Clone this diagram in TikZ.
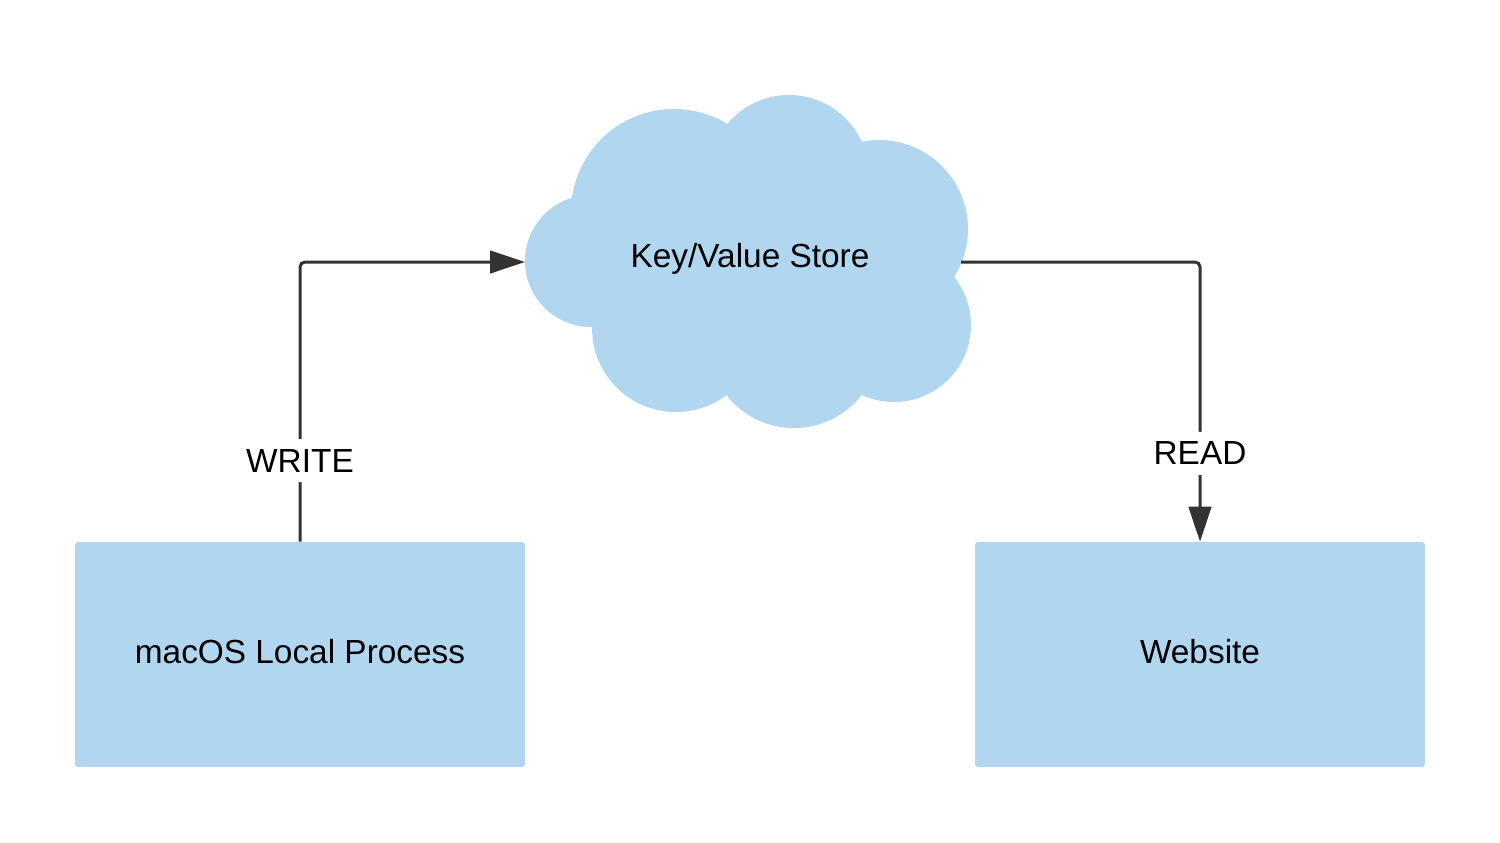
\documentclass[tikz,border=0pt]{standalone}
\usepackage{fontspec}
\setmainfont{Liberation Sans}
\usetikzlibrary{arrows.meta}
\definecolor{boxblue}{HTML}{B1D6F0}
\definecolor{linegray}{HTML}{333333}

\begin{document}
\begin{tikzpicture}[x=0.02cm,y=-0.02cm]

\tikzset{block/.style = {shape=rectangle, fill=boxblue, rounded corners=0.06cm, minimum width=9cm, minimum height=4.5cm, text depth=0.4em, font=\fontsize{19}{23}\selectfont}}
\tikzset{flow/.style = {-{Triangle[length=0.7cm,width=0.45cm]}, draw=linegray, line width=0.06cm, rounded corners=0.1cm}}
\tikzset{lbl/.style = {fill=white, inner xsep=0.03cm, inner ysep=0.2cm, font=\fontsize{19}{23}\selectfont}}

\useasboundingbox (0,0) rectangle (1500,842);

% cloud
\fill[boxblue] (572,197) -- (728,124) -- (862,142) -- (953,277) -- (862,395) -- (727,395) -- (593,327) -- cycle;
\foreach \cx/\cy/\r in {591/261/66, 674/212/103, 789/175/80, 879/229/89, 894/325/77, 794/342/86, 676/328/84}
  \fill[boxblue] (\cx,\cy) circle[radius=\r];

% vertices
\node[block] (mac) at (300,654.5) {macOS Local Process};
\node[block] (web) at (1200,654.5) {Website};
\node[anchor=base, font=\fontsize{19}{23}\selectfont] (kv) at (750,267) {Key/Value Store};
\coordinate (kvW) at (525,262);
\coordinate (kvE) at (961,262);

% arcs
\draw[flow] (mac.north) |- node[lbl, pos=0.145] {WRITE} (kvW);
\draw[flow] (kvE) -| node[lbl, pos=0.842] {READ} (web.north);

\end{tikzpicture}
\end{document}
